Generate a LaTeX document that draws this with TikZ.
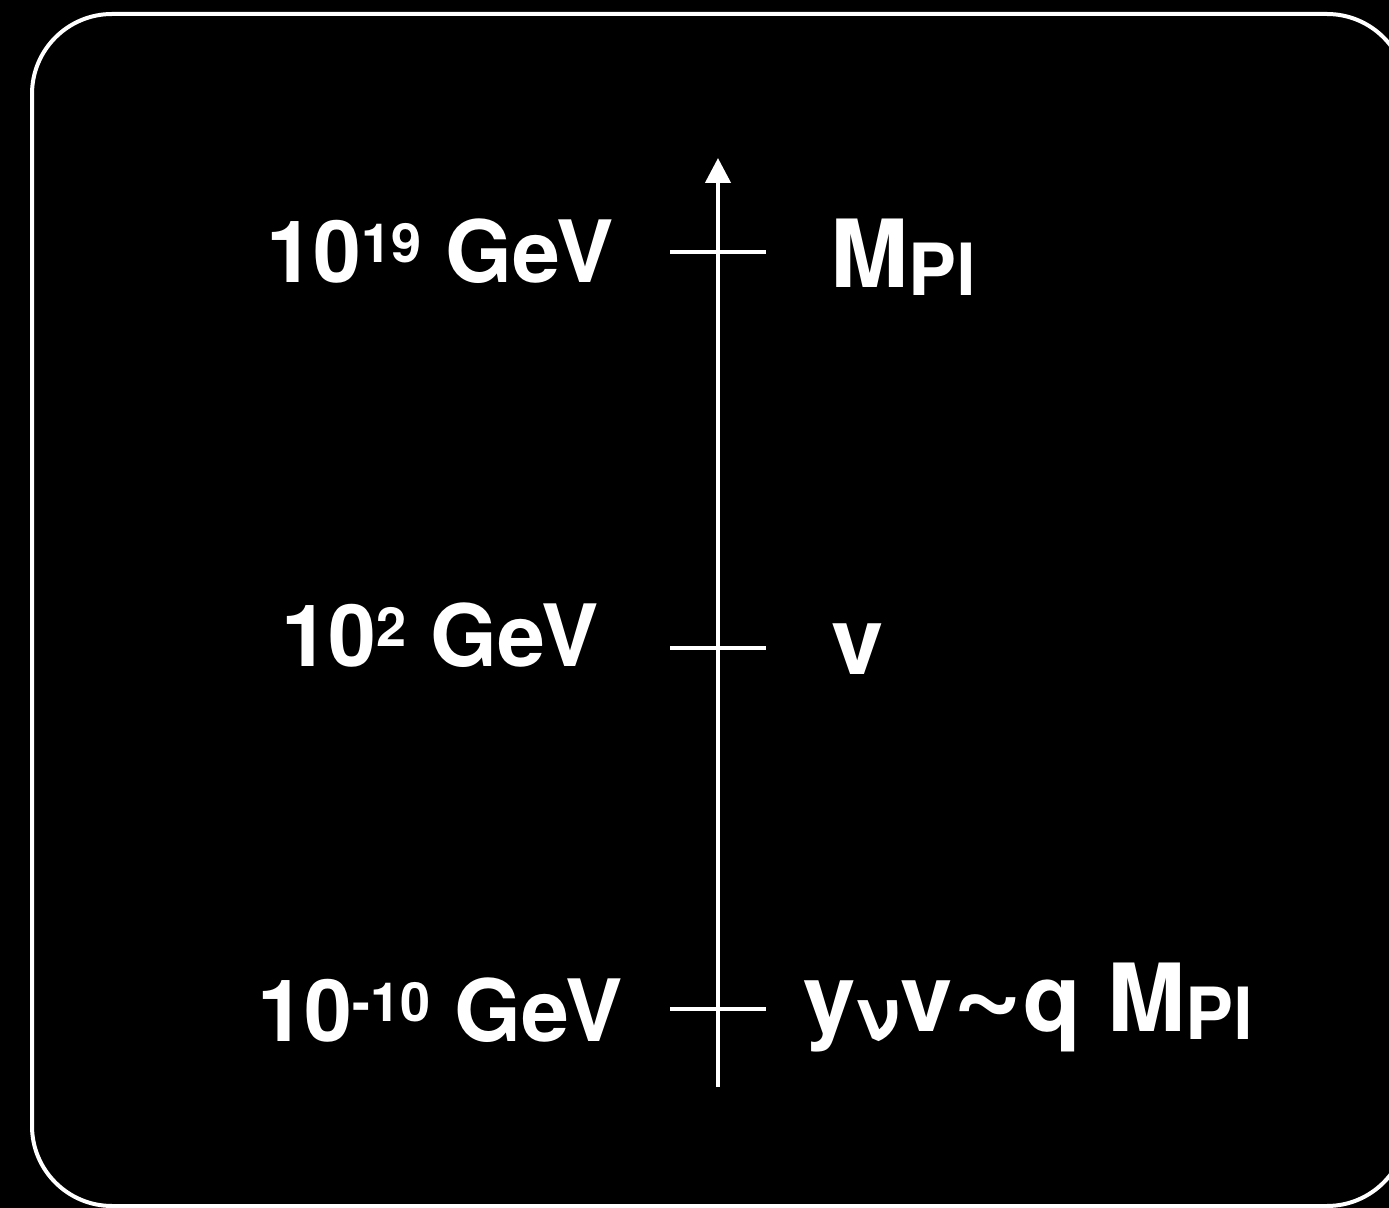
\documentclass[tikz,border=0pt]{standalone}
\usepackage{fontspec}
\setmainfont{TeX Gyre Heros}
\usetikzlibrary{arrows.meta}

% apici e pedici a mano
\newcommand{\apice}[1]{\raisebox{10pt}{\fontsize{27}{27}\selectfont #1}}
\newcommand{\pedice}[1]{\raisebox{-4pt}{\fontsize{36}{36}\selectfont #1}}
\newcommand{\onda}{\raisebox{0pt}{\scalebox{1.3}[1.25]{\textasciitilde}}}

\tikzset{
  scala/.style={font=\fontsize{43}{43}\selectfont\bfseries, text=white, anchor=base, inner sep=0pt},
  massa/.style={font=\fontsize{47}{47}\selectfont\bfseries, text=white, anchor=base west, inner sep=0pt},
}

\begin{document}
\begin{tikzpicture}[x=0.5pt, y=-0.5pt, line width=2.2pt, white]

\useasboundingbox (0,0) rectangle (1389,1208);
\fill[black] (0,0) rectangle (1389,1208);

% Cornice
\draw[line width=2pt, rounded corners=40pt] (32,14) rectangle (1407,1206);

% Asse
\coordinate (basso) at (718,1087);
\coordinate (cima) at (718,158);
\draw[-{Triangle[width=12.5pt, length=12.5pt]}] (basso) -- (cima);

% Tacche
\foreach \nome/\y in {planck/252, ew/648, nu/1009} {
  \coordinate (\nome-sx) at (670,\y);
  \coordinate (\nome-dx) at (766,\y);
  \draw (\nome-sx) -- (\nome-dx);
}

% Etichette a sinistra
\node[scala] (e19) at (440,283) {10\apice{19} GeV};
\node[scala] (e2) at (440,667) {10\apice{2} GeV};
\node[scala] (e10) at (440,1042) {10\apice{-10} GeV};

% Etichette a destra
\node[massa] (mpl) at (828,288) {M\pedice{Pl}};
\node[massa] (vev) at (829,675) {v};
\node[massa] (ynu) at (801,1031) {y\pedice{ν}v\onda q M\pedice{Pl}};

\end{tikzpicture}
\end{document}
